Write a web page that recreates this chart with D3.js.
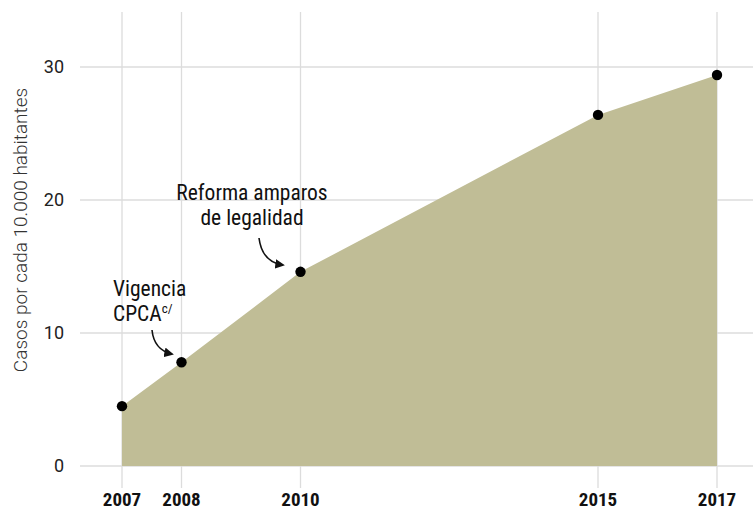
<!DOCTYPE html>
<html><head><meta charset="utf-8">
<script src="https://cdn.jsdelivr.net/npm/d3@7"></script>
<style>body{margin:0;background:#fff}svg{display:block}</style>
</head><body>
<svg id="c" width="753" height="510"></svg>
<script>
const years = [2007, 2008, 2010, 2015, 2017];
const values = [4.5, 7.8, 14.6, 26.4, 29.4];
const yTicks = [0, 10, 20, 30];
const yLabel = "Casos por cada 10.000 habitantes";

const svg = d3.select("#c");
const x = d3.scaleLinear().domain([2007, 2017]).range([122, 717]);
const y = d3.scaleLinear().domain([0, 30]).range([466, 67]);
const grid = "#dcdcdc";
const condensed = "'Liberation Sans Narrow','Roboto Condensed','Roboto',sans-serif";

// horizontal grid
svg.append("g").selectAll("line").data(yTicks).join("line")
  .attr("x1", 80).attr("x2", 753)
  .attr("y1", d => y(d)).attr("y2", d => y(d))
  .attr("stroke", grid).attr("stroke-width", 1.3);
// vertical grid
svg.append("g").selectAll("line").data(years).join("line")
  .attr("x1", d => x(d)).attr("x2", d => x(d))
  .attr("y1", 12).attr("y2", 488)
  .attr("stroke", grid).attr("stroke-width", 1.3);

// area
const data = years.map((yr, i) => ({yr, v: values[i]}));
svg.append("path").datum(data)
  .attr("fill", "#c0bd96")
  .attr("d", d3.area().x(d => x(d.yr)).y0(y(0)).y1(d => y(d.v)));

// dots
svg.append("g").selectAll("circle").data(data).join("circle")
  .attr("cx", d => x(d.yr)).attr("cy", d => y(d.v)).attr("r", 5.2).attr("fill", "#000");

// y tick labels
svg.append("g").selectAll("text").data(yTicks).join("text")
  .attr("x", 64).attr("y", d => y(d)).attr("dy", "0.35em")
  .attr("text-anchor", "end").attr("font-family", "Roboto, sans-serif")
  .attr("font-size", 18).attr("fill", "#222").text(d => d);

// x tick labels
svg.append("g").selectAll("text").data(years).join("text")
  .attr("x", d => x(d)).attr("y", 506)
  .attr("text-anchor", "middle").attr("font-family", condensed)
  .attr("font-weight", "bold").attr("font-size", 19).attr("fill", "#111").text(d => d);

// y axis label
svg.append("text").attr("transform", "translate(27,230) rotate(-90)")
  .attr("text-anchor", "middle").attr("font-family", "Roboto, sans-serif").attr("font-weight", 300)
  .attr("font-size", 19).attr("fill", "#333").text(yLabel);

// annotations
const ann = svg.append("g").attr("font-family", condensed).attr("font-size", 21.5).attr("fill", "#111");
ann.append("text").attr("x", 252).attr("y", 200).attr("text-anchor", "middle").text("Reforma amparos");
ann.append("text").attr("x", 252).attr("y", 225).attr("text-anchor", "middle").text("de legalidad");
ann.append("text").attr("x", 113).attr("y", 296).text("Vigencia");
const t2 = ann.append("text").attr("x", 113).attr("y", 321).text("CPCA");
t2.append("tspan").attr("font-size", 13).attr("dy", -8).text("c/");

// arrows
svg.append("defs").append("marker").attr("id", "ah").attr("viewBox", "0 0 10 10")
  .attr("refX", 8).attr("refY", 5).attr("markerWidth", 6).attr("markerHeight", 6).attr("orient", "auto")
  .append("path").attr("d", "M0,0 L10,5 L0,10 Z").attr("fill", "#111");
svg.append("path").attr("d", "M259,238 Q262,262 283,265").attr("fill", "none")
  .attr("stroke", "#111").attr("stroke-width", 1.6).attr("marker-end", "url(#ah)");
svg.append("path").attr("d", "M152,330 Q154,350 172,354").attr("fill", "none")
  .attr("stroke", "#111").attr("stroke-width", 1.6).attr("marker-end", "url(#ah)");
</script>
</body></html>
